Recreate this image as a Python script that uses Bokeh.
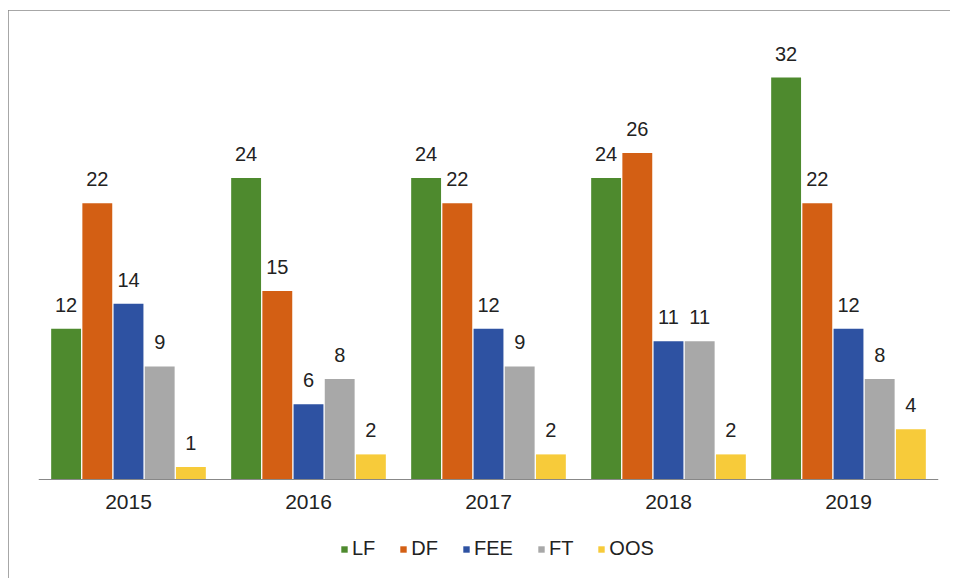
from bokeh.plotting import figure
from bokeh.models import ColumnDataSource, FactorRange, Legend, LegendItem, LabelSet, Range1d
from bokeh.transform import dodge
from bokeh.core.properties import value
from bokeh.embed import file_html
from bokeh.resources import INLINE

years = ["2015", "2016", "2017", "2018", "2019"]
series = ["LF", "DF", "FEE", "FT", "OOS"]
LF = [12, 24, 24, 24, 32]
DF = [22, 15, 22, 26, 22]
FEE = [14, 6, 12, 11, 12]
FT = [9, 8, 9, 11, 8]
OOS = [1, 2, 2, 2, 4]
values = [LF, DF, FEE, FT, OOS]
colors = ["#4E8A2E", "#D35F14", "#2E52A2", "#A8A8A8", "#F7CB3A"]

p = figure(x_range=FactorRange(*years), y_range=Range1d(-7.56, 36.54), width=942, height=568,
           output_backend="svg", toolbar_location=None,
           min_border_left=30, min_border_right=12, min_border_top=10, min_border_bottom=4)
p.styles = {"margin-left": "8px", "margin-top": "10px",
            "outline": "1px solid #8a8a8a", "outline-offset": "-1px"}
p.outline_line_color = None
p.grid.visible = False
p.yaxis.visible = False
p.xaxis.fixed_location = 0
p.xaxis.axis_line_color = "#888888"
p.xaxis.major_tick_line_color = None
p.xaxis.minor_tick_line_color = None
p.xaxis.major_label_text_font = "Liberation Sans"
p.xaxis.major_label_text_font_size = "21px"
p.xaxis.major_label_text_color = "#222222"
p.xaxis.major_label_standoff = 9

pitch = 0.1733
items = []
for i, (name, vals, col) in enumerate(zip(series, values, colors)):
    src = ColumnDataSource(dict(x=years, top=vals, lab=[str(v) for v in vals]))
    off = (i - 2) * pitch
    r = p.vbar(x=dodge("x", off, range=p.x_range), top="top", width=0.166, source=src,
               fill_color=col, line_color=None)
    items.append(LegendItem(label=name, renderers=[r]))
    lbl = LabelSet(x=dodge("x", off, range=p.x_range), y="top", text="lab", source=src,
                   text_align="center", text_baseline="alphabetic", y_offset=17,
                   text_font=value("Liberation Sans"), text_font_size=value("20px"),
                   text_color=value("#222222"))
    p.add_layout(lbl)

legend = Legend(items=items, orientation="horizontal", location=(302, 14),
                label_text_font="Liberation Sans", label_text_font_size="20px",
                label_text_color="#222222", glyph_width=8, glyph_height=8,
                spacing=24, label_standoff=4, border_line_color=None,
                background_fill_alpha=0, margin=0, padding=0)
p.add_layout(legend, "center")

open("out.html", "w").write(file_html(p, INLINE))
